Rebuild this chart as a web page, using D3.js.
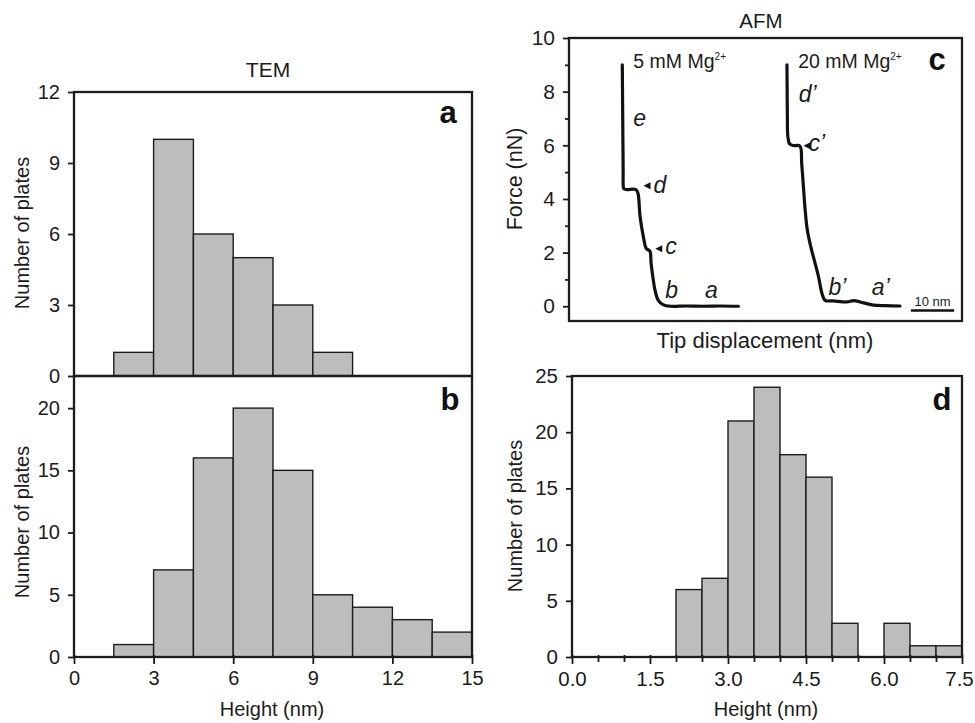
<!DOCTYPE html>
<html>
<head>
<meta charset="utf-8">
<script src="https://cdn.jsdelivr.net/npm/d3@7"></script>
<style>
body{margin:0;background:#fff}
svg{display:block;font-family:"Liberation Sans",Arial,sans-serif}
</style>
</head>
<body>
<svg id="fig" width="975" height="723"></svg>
<script>
// TEM histograms (bin left edge in nm, counts)
const temBinStart = [1.5, 3, 4.5, 6, 7.5, 9, 10.5, 12, 13.5];
const temBinWidth = 1.5;
const temCountsA = [1, 10, 6, 5, 3, 1, 0, 0, 0];
const temCountsB = [1, 7, 16, 20, 15, 5, 4, 3, 2];

// AFM histogram
const afmBinStart = [2.0, 2.5, 3.0, 3.5, 4.0, 4.5, 5.0, 5.5, 6.0, 6.5, 7.0];
const afmBinWidth = 0.5;
const afmCounts = [6, 7, 21, 24, 18, 16, 3, 0, 3, 1, 1];

// tick values
const ticksA = [0, 3, 6, 9, 12];
const ticksB = [0, 5, 10, 15, 20];
const ticksTemX = [0, 3, 6, 9, 12, 15];
const ticksForce = [0, 2, 4, 6, 8, 10];
const minorForce = [1, 3, 5, 7, 9];
const ticksD = [0, 5, 10, 15, 20, 25];
const ticksAfmX = [0, 1.5, 3, 4.5, 6, 7.5];
const minorAfmX = [0.5, 1, 2, 2.5, 3.5, 4, 5, 5.5, 6.5, 7];

// force curves: [tip displacement (nm), force (nN)]
const curve5mM = [[12.3, 9.0], [12.35, 8.0], [12.4, 7.0], [12.45, 6.0], [12.5, 5.0], [12.5, 4.6], [12.65, 4.38],
  [13.3, 4.35], [15.2, 4.36], [15.7, 4.3], [16.0, 4.15], [16.4, 3.35], [17.15, 2.6], [17.8, 2.16], [18.3, 2.1],
  [18.7, 2.05], [18.95, 1.6], [19.35, 1.1], [19.85, 0.6], [20.6, 0.22], [21.8, 0.05], [23.3, 0.0], [27, 0.01],
  [31, 0.0], [35, 0.01], [39.1, 0.0]];
const curve20mM = [[50.3, 9.0], [50.35, 8.0], [50.4, 7.0], [50.5, 6.35], [50.9, 6.06], [51.8, 5.99], [53.3, 5.97],
  [53.7, 5.33], [54.1, 4.46], [54.5, 3.59], [55.0, 2.84], [55.8, 2.22], [56.8, 1.6], [57.6, 1.09], [58.4, 0.47],
  [59.1, 0.22], [61.0, 0.2], [64.1, 0.16], [65.7, 0.21], [67.2, 0.16], [70.3, 0.04], [73, 0.02], [76.4, 0.01]];

// curve annotations (data coords of text left/baseline; arrow tip)
const curveNotes = [
  {t: 'e', x: 14.85, y: 6.73},
  {t: 'd', x: 19.5, y: 4.22, ax: 17.2, ay: 4.49},
  {t: 'c', x: 22.2, y: 1.95, ax: 19.9, ay: 2.14},
  {t: 'b', x: 22.2, y: 0.3},
  {t: 'a', x: 31.4, y: 0.3},
  {t: 'd\u2019', x: 53.0, y: 7.63},
  {t: 'c\u2019', x: 55.3, y: 5.77, ax: 54.1, ay: 5.98},
  {t: 'b\u2019', x: 59.9, y: 0.42},
  {t: 'a\u2019', x: 69.9, y: 0.42}
];
const concLabels = [{n: '5', x: 14.85, y: 8.88}, {n: '20', x: 52.9, y: 8.88}];
const scaleBar = {x0: 78.9, len: 10, y: -0.16, label: '10 nm'};

const ink = '#1c1c1c';
const barFill = '#bdbdbd';
const svg = d3.select('#fig');

function frame(g, x0, x1, y0, y1) {
  g.append('rect')
    .attr('x', x0).attr('y', y0)
    .attr('width', x1 - x0).attr('height', y1 - y0)
    .attr('fill', 'none').attr('stroke', ink).attr('stroke-width', 2.3);
}

function styleAxis(sel, fontSize) {
  sel.select('.domain').remove();
  sel.selectAll('line').attr('stroke', ink).attr('stroke-width', 1.8);
  sel.selectAll('text').style('font-size', fontSize + 'px').attr('fill', ink);
}

function bars(g, xScale, yScale, starts, width, counts) {
  const rows = starts.map((s, i) => ({s: s, c: counts[i]})).filter(d => d.c > 0);
  g.selectAll('rect.bar')
    .data(rows)
    .join('rect')
    .attr('class', 'bar')
    .attr('x', d => xScale(d.s))
    .attr('y', d => yScale(d.c))
    .attr('width', d => xScale(d.s + width) - xScale(d.s))
    .attr('height', d => yScale(0) - yScale(d.c))
    .attr('fill', barFill)
    .attr('stroke', ink)
    .attr('stroke-width', 1.4);
}

function panelLetter(g, t, x, y) {
  g.append('text').attr('x', x).attr('y', y).text(t)
    .style('font-size', '31px').style('font-weight', 'bold')
    .style('text-anchor', 'middle').attr('fill', '#111');
}

function yLabel(g, t, x, y, size) {
  g.append('text')
    .attr('transform', `translate(${x},${y}) rotate(-90)`)
    .attr('dominant-baseline', 'central')
    .style('text-anchor', 'middle').style('font-size', size + 'px')
    .attr('fill', ink).text(t);
}

function xLabel(g, t, x, y, size) {
  g.append('text').attr('x', x).attr('y', y)
    .attr('dominant-baseline', 'central')
    .style('text-anchor', 'middle').style('font-size', size + 'px')
    .attr('fill', ink).text(t);
}

// ---------- TEM a ----------
const xTem = d3.scaleLinear().domain([0, 15]).range([74, 472]);
const yA = d3.scaleLinear().domain([0, 12]).range([376, 92]);
const gA = svg.append('g');
bars(gA, xTem, yA, temBinStart, temBinWidth, temCountsA);
frame(gA, 74, 472, 92, 376);
gA.append('g').attr('transform', 'translate(74,0)')
  .call(d3.axisLeft(yA).tickValues(ticksA).tickSize(6).tickPadding(8))
  .call(s => styleAxis(s, 20));
panelLetter(gA, 'a', 448, 123);
yLabel(gA, 'Number of plates', 22, 233, 20);
xLabel(gA, 'TEM', 268, 69, 21);

// ---------- TEM b ----------
const yB = d3.scaleLinear().domain([0, 22.5]).range([657, 377]);
const gB = svg.append('g');
bars(gB, xTem, yB, temBinStart, temBinWidth, temCountsB);
frame(gB, 74, 472, 376, 657);
gB.append('g').attr('transform', 'translate(74,0)')
  .call(d3.axisLeft(yB).tickValues(ticksB).tickSize(6).tickPadding(8))
  .call(s => styleAxis(s, 20));
gB.append('g').attr('transform', 'translate(0,657)')
  .call(d3.axisBottom(xTem).tickValues(ticksTemX).tickSize(7).tickPadding(7))
  .call(s => styleAxis(s, 20))
  .call(s => s.selectAll('line').attr('y1', -2));
panelLetter(gB, 'b', 450, 410);
yLabel(gB, 'Number of plates', 22, 522, 20);
xLabel(gB, 'Height (nm)', 272, 709, 20);

// ---------- AFM c ----------
const xDisp = d3.scaleLinear().domain([0, 90.7]).range([569, 962]);
const yForce = d3.scaleLinear().domain([-0.55, 10]).range([321, 38]);
const gC = svg.append('g');
frame(gC, 569, 962, 38, 321);
gC.append('g').attr('transform', 'translate(569,0)')
  .call(d3.axisLeft(yForce).tickValues(ticksForce).tickSize(6).tickPadding(8))
  .call(s => styleAxis(s, 21));
gC.append('g').attr('transform', 'translate(569,0)')
  .call(d3.axisLeft(yForce).tickValues(minorForce).tickSize(4).tickFormat(''))
  .call(s => styleAxis(s, 21));

const forceLine = d3.line()
  .x(d => xDisp(d[0]))
  .y(d => yForce(d[1]))
  .curve(d3.curveCatmullRom.alpha(0.5));
gC.selectAll('path.curve')
  .data([curve5mM, curve20mM])
  .join('path')
  .attr('class', 'curve')
  .attr('d', forceLine)
  .attr('fill', 'none')
  .attr('stroke', '#111')
  .attr('stroke-width', 3.2)
  .attr('stroke-linejoin', 'round')
  .attr('stroke-linecap', 'round');

concLabels.forEach(c => {
  const t = gC.append('text')
    .attr('x', xDisp(c.x)).attr('y', yForce(c.y))
    .style('font-size', '19.5px').attr('fill', ink);
  t.append('tspan').text(c.n + ' mM Mg');
  t.append('tspan').attr('dy', -8).style('font-size', '10px').text('2+');
});

curveNotes.forEach(n => {
  gC.append('text')
    .attr('x', xDisp(n.x)).attr('y', yForce(n.y))
    .style('font-size', '23px').style('font-style', 'italic')
    .attr('fill', ink).text(n.t);
  if (n.ax !== undefined) {
    const ax = xDisp(n.ax), ay = yForce(n.ay);
    gC.append('path')
      .attr('d', `M${ax},${ay}L${ax + 7},${ay - 3.5}L${ax + 7},${ay + 3.5}Z`)
      .attr('fill', '#111');
  }
});

gC.append('line')
  .attr('x1', xDisp(scaleBar.x0)).attr('x2', xDisp(scaleBar.x0 + scaleBar.len))
  .attr('y1', yForce(scaleBar.y)).attr('y2', yForce(scaleBar.y))
  .attr('stroke', '#111').attr('stroke-width', 2.4);
gC.append('text')
  .attr('x', xDisp(scaleBar.x0 + scaleBar.len / 2)).attr('y', yForce(scaleBar.y) - 5)
  .style('text-anchor', 'middle').style('font-size', '13px')
  .attr('fill', ink).text(scaleBar.label);

panelLetter(gC, 'c', 937, 70);
yLabel(gC, 'Force (nN)', 515, 179, 21.5);
xLabel(gC, 'Tip displacement (nm)', 765, 340, 22);
xLabel(gC, 'AFM', 761, 20, 20.5);

// ---------- AFM d ----------
const xAfm = d3.scaleLinear().domain([0, 7.5]).range([572, 962]);
const yD = d3.scaleLinear().domain([0, 25]).range([657, 376]);
const gD = svg.append('g');
bars(gD, xAfm, yD, afmBinStart, afmBinWidth, afmCounts);
frame(gD, 572, 962, 376, 657);
gD.append('g').attr('transform', 'translate(572,0)')
  .call(d3.axisLeft(yD).tickValues(ticksD).tickSize(6).tickPadding(8))
  .call(s => styleAxis(s, 20.5));
gD.append('g').attr('transform', 'translate(0,657)')
  .call(d3.axisBottom(xAfm).tickValues(ticksAfmX).tickSize(7).tickPadding(7).tickFormat(d3.format('.1f')))
  .call(s => styleAxis(s, 20.5))
  .call(s => s.selectAll('line').attr('y1', -2))
  .call(s => s.selectAll('text').filter(d => d === 7.5).attr('dx', -3));
gD.append('g').attr('transform', 'translate(0,657)')
  .call(d3.axisBottom(xAfm).tickValues(minorAfmX).tickSize(5).tickFormat(''))
  .call(s => styleAxis(s, 20.5))
  .call(s => s.selectAll('line').attr('y1', -2));
panelLetter(gD, 'd', 942, 410);
yLabel(gD, 'Number of plates', 515, 516, 20);
xLabel(gD, 'Height (nm)', 766, 709, 20);
</script>
</body>
</html>
